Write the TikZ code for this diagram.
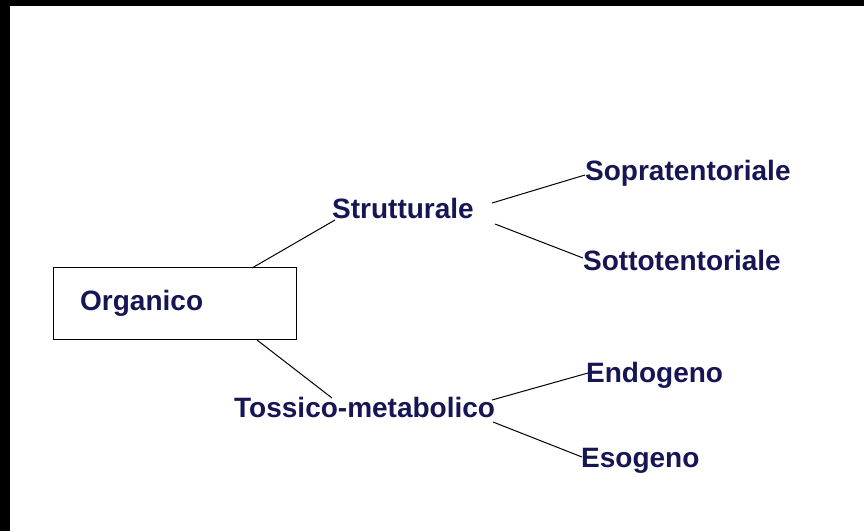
\documentclass[tikz,border=0pt]{standalone}
\usepackage{fontspec}
\setmainfont{Liberation Sans}
\definecolor{navy}{RGB}{22,22,84}
\begin{document}
\begin{tikzpicture}[x=1pt,y=-1pt,
  lbl/.style={anchor=base west,inner sep=0pt,text=navy,font=\fontsize{28}{33}\selectfont\bfseries},
  conn/.style={draw=black,line width=1pt}]
\useasboundingbox (0,0) rectangle (864,531);
\fill[white] (0,0) rectangle (864,531);
\fill[black] (0,0) rectangle (864,6);
\fill[black] (0,0) rectangle (10,531);
% box
\node[draw=black,line width=1.2pt,minimum width=243pt,minimum height=72pt,inner sep=0pt,anchor=north west] (box) at (53,267) {};
\node[lbl] (org) at (80,310) {Organico};
\node[lbl] (str) at (332,218) {Strutturale};
\node[lbl] (sop) at (585,180) {Sopratentoriale};
\node[lbl] (sot) at (583,270) {Sottotentoriale};
\node[lbl] (tos) at (234,417) {Tossico-metabolico};
\node[lbl] (endo) at (586,382) {Endogeno};
\node[lbl] (eso) at (581,467) {Esogeno};
% connector endpoints
\coordinate (b1) at (252,268);
\coordinate (s1) at (335,220);
\coordinate (b2) at (257,340);
\coordinate (t1) at (332,398);
\coordinate (s2) at (492,203);
\coordinate (p1) at (585,175);
\coordinate (s3) at (495,224);
\coordinate (o1) at (583,258);
\coordinate (t2) at (492,400);
\coordinate (e1) at (588,373);
\coordinate (t3) at (493,422);
\coordinate (e2) at (582,457);
\draw[conn] (b1) -- (s1);
\draw[conn] (b2) -- (t1);
\draw[conn] (s2) -- (p1);
\draw[conn] (s3) -- (o1);
\draw[conn] (t2) -- (e1);
\draw[conn] (t3) -- (e2);
\end{tikzpicture}
\end{document}
